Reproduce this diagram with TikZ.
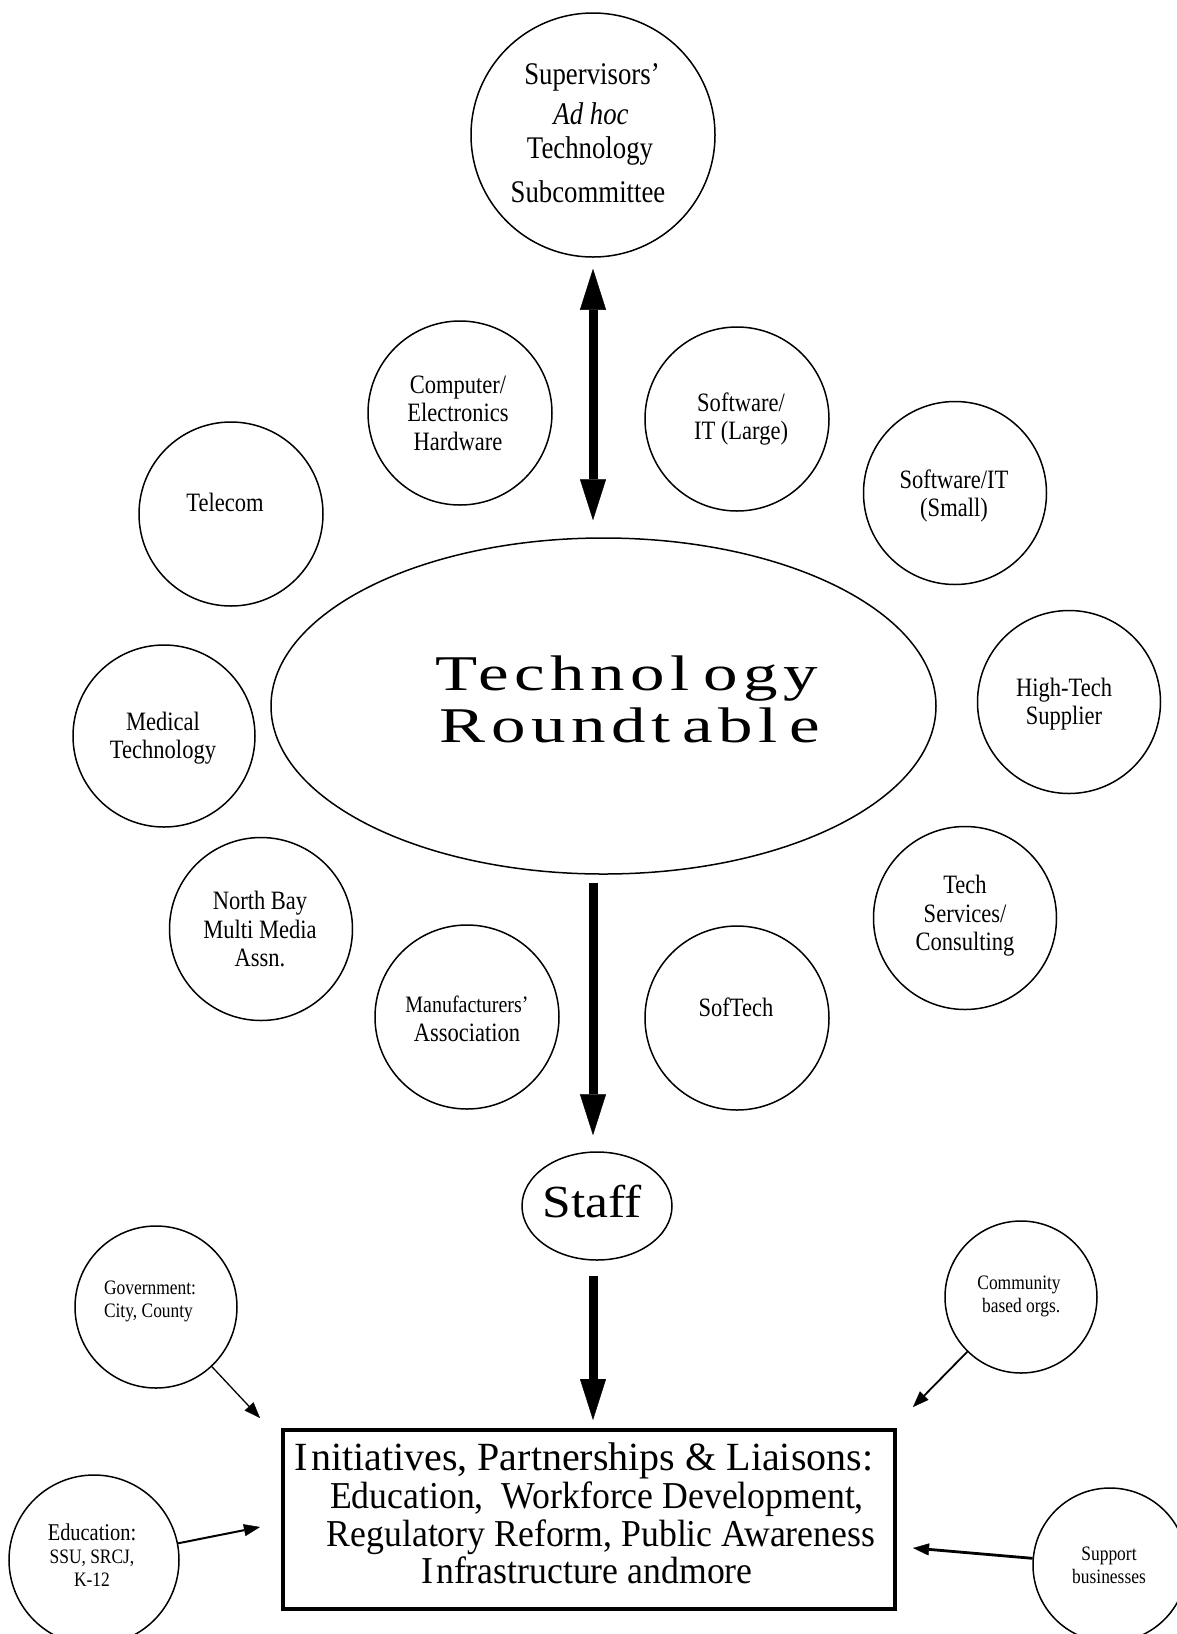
\documentclass[tikz,border=0pt]{standalone}
\usepackage{fontspec}
\setmainfont{Liberation Serif}
\newfontfamily\condf[FakeStretch=0.85]{Liberation Serif}
\newfontfamily\boxf[FakeStretch=0.94]{Liberation Serif}
\newfontfamily\widef[FakeStretch=1.38,LetterSpace=11]{Liberation Serif}
\newfontfamily\stafff[FakeStretch=1.12]{Liberation Serif}
\usetikzlibrary{arrows.meta,shapes.geometric}
\begin{document}
\begin{tikzpicture}[x=1pt,y=-1pt,
  bub/.style={circle,draw,line width=1.5pt,inner sep=0pt,minimum size=#1},
  ctext/.style={align=center,inner sep=0pt,font=\condf\fontsize{26.5}{28.5}\selectfont},
  stext/.style={align=center,inner sep=0pt,font=\condf\fontsize{20.5}{23}\selectfont},
  suptext/.style={anchor=base,inner sep=0pt,font=\condf\fontsize{31.5}{32}\selectfont},
  boxtext/.style={anchor=base,inner sep=0pt,font=\boxf\fontsize{38}{38}\selectfont},
  rttext/.style={anchor=base,inner sep=0pt,font=\widef\fontsize{50}{50}\selectfont},
  bigarrow/.style={line width=9pt,-{Triangle[length=41pt,width=26pt,line width=0.4pt]}},
  dblarrow/.style={line width=9pt,{Triangle[length=41pt,width=26pt,line width=0.4pt]}-{Triangle[length=41pt,width=26pt,line width=0.4pt]}},
  thinarrow/.style={line width=#1,-{Triangle[length=16pt,width=12pt,line width=0.4pt]}}
]
\fill[white] (0,0) rectangle (1177,1634);
\useasboundingbox (0,0) rectangle (1177,1634);

% top circle
\node[bub=244pt] (sup) at (593,135) {};
\node[suptext] (sup-a) at (592,84) {Supervisors’};
\node[suptext] (sup-b) at (591,124) {\itshape Ad hoc};
\node[suptext] (sup-c) at (590,158) {Technology};
\node[suptext] (sup-d) at (588,202) {Subcommittee};

% central ellipse
\node[ellipse,draw,line width=1.5pt,inner sep=0pt,minimum width=665pt,minimum height=336pt] (rt) at (603.5,706) {};
\node[rttext] (rt-a) at (627,690) {Technol\hspace{14pt}ogy};
\node[rttext] (rt-b) at (630,742) {Roundt\hspace{12pt}abl\hspace{12pt}e};

% surrounding circles
\node[bub=184pt] (comp) at (460,413) {};
\node[ctext] (comp-t) at (458,413) {Computer/\\Electronics\\Hardware};
\node[bub=184pt] (swl) at (737,419) {};
\node[ctext] (swl-t) at (741,419) {Software/\\IT (Large)};
\node[bub=184pt] (tel) at (231,514) {};
\node[ctext] (tel-t) at (225,502) {Telecom};
\node[bub=183pt] (sws) at (955,493) {};
\node[ctext] (sws-t) at (954,496) {Software/IT\\(Small)};
\node[bub=183pt] (htech) at (1069,702) {};
\node[ctext] (htech-t) at (1064,704) {High-Tech\\Supplier};
\node[bub=182pt] (med) at (164,736) {};
\node[ctext] (med-t) at (163,738) {Medical\\Technology};
\node[bub=183pt] (nbay) at (261,929) {};
\node[ctext] (nbay-t) at (260,929) {North Bay\\Multi Media\\Assn.};
\node[bub=183pt] (tserv) at (965,918) {};
\node[ctext] (tserv-t) at (965,916) {Tech\\Services/\\Consulting};
\node[bub=184pt] (manu) at (467,1017) {};
\node[ctext] (manu-t) at (467,1019) {{\fontsize{23.5}{24}\selectfont Manufacturers’}\\Association};
\node[bub=184pt] (soft) at (737,1018) {};
\node[ctext] (soft-t) at (736,1007) {SofTech};

% staff
\node[ellipse,draw,line width=1.5pt,inner sep=0pt,minimum width=150pt,minimum height=108pt] (staff) at (597,1206) {};
\node[anchor=base,inner sep=0pt,font=\stafff\fontsize{46}{46}\selectfont] (staff-t) at (592,1217) {Staff};

% main arrows
\draw[dblarrow,shorten <=11pt,shorten >=17pt] (sup.south) -- (sup |- rt.north);
\draw[bigarrow,shorten <=8pt,shorten >=16pt] (rt.south -| sup) -- (staff.north -| sup);
\draw[bigarrow,shorten <=15pt,shorten >=10pt] (staff.south -| sup) -- (sup |- 0,1430);

% box
\node[draw,line width=3.5pt,inner sep=0pt,minimum width=612pt,minimum height=179pt] (box) at (589,1519.5) {};
\node[anchor=base,inner sep=0pt,font=\fontsize{40}{40}\selectfont] (box-a) at (584,1470) {I\kern3pt nitiatives, Partnerships \& Liaisons:};
\node[boxtext] (box-b) at (597,1508) {Education,\ \ Workforce Development,};
\node[boxtext] (box-c) at (601,1546) {Regulatory Reform, Public Awareness};
\node[boxtext] (box-d) at (587,1583) {I\kern3pt nfrastructure andmore};

% outer circles
\node[bub=162pt] (gov) at (156,1307) {};
\node[stext,align=left] (gov-t) at (150,1301) {Government:\\City, County};
\node[bub=152pt] (comm) at (1021,1297) {};
\node[stext] (comm-t) at (1019,1296) {Community\\\ based orgs.};
\node[bub=170pt] (edu) at (94,1560) {};
\node[stext] (edu-t) at (92,1555) {{\fontsize{24}{26}\selectfont Education:}\\SSU, SRCJ,\\K-12};
\node[bub=154pt] (supp) at (1110,1565) {};
\node[stext] (supp-t) at (1109,1565) {Support\\businesses};

\coordinate (gov-end) at (260,1418);
\coordinate (edu-end) at (260,1527);
\coordinate (comm-end) at (913,1407);
\coordinate (supp-end) at (913,1548);
\draw[thinarrow=1.3pt] (gov) -- (gov-end);
\draw[thinarrow=2pt] (edu) -- (edu-end);
\draw[thinarrow=1.8pt] (comm) -- (comm-end);
\draw[thinarrow=2.8pt] (supp) -- (supp-end);
\end{tikzpicture}
\end{document}
